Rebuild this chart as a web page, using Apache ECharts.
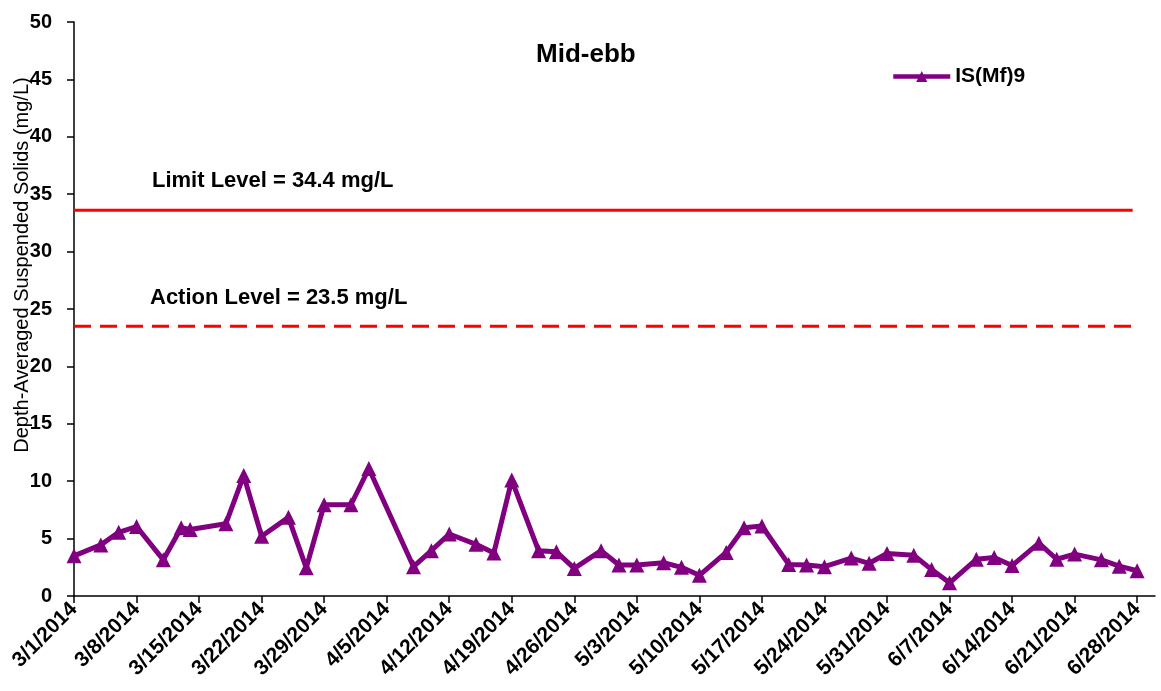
<!DOCTYPE html>
<html>
<head>
<meta charset="utf-8">
<script src="https://cdn.jsdelivr.net/npm/echarts@6/dist/echarts.min.js"></script>
<style>
  html, body { margin: 0; padding: 0; background: #fff; }
  #main { width: 1161px; height: 691px; }
</style>
</head>
<body>
<div id="main"></div>
<script>
// sampling dates and mid-ebb depth-averaged SS (mg/L) at IS(Mf)9
var sampleDates = ['3/1/2014', '3/4/2014', '3/6/2014', '3/8/2014', '3/11/2014', '3/13/2014', '3/14/2014',
  '3/18/2014', '3/20/2014', '3/22/2014', '3/25/2014', '3/27/2014', '3/29/2014', '4/1/2014', '4/3/2014',
  '4/8/2014', '4/10/2014', '4/12/2014', '4/15/2014', '4/17/2014', '4/19/2014', '4/22/2014', '4/24/2014',
  '4/26/2014', '4/29/2014', '5/1/2014', '5/3/2014', '5/6/2014', '5/8/2014', '5/10/2014', '5/13/2014',
  '5/15/2014', '5/17/2014', '5/20/2014', '5/22/2014', '5/24/2014', '5/27/2014', '5/29/2014', '5/31/2014',
  '6/3/2014', '6/5/2014', '6/7/2014', '6/10/2014', '6/12/2014', '6/14/2014', '6/17/2014', '6/19/2014',
  '6/21/2014', '6/24/2014', '6/26/2014', '6/28/2014'];
var ssValues = [3.5, 4.45, 5.55, 6.05, 3.15, 5.95, 5.8,
  6.3, 10.5, 5.2, 6.85, 2.45, 7.95, 7.95, 11.1,
  2.55, 3.95, 5.4, 4.5, 3.75, 10.1, 3.95, 3.85,
  2.4, 3.95, 2.7, 2.7, 2.9, 2.5, 1.8, 3.8,
  5.95, 6.1, 2.75, 2.7, 2.55, 3.3, 2.85, 3.7,
  3.55, 2.3, 1.15, 3.2, 3.35, 2.65, 4.6, 3.2,
  3.65, 3.15, 2.6, 2.2];

// x axis tick labels (weekly)
var tickDates = ['3/1/2014', '3/8/2014', '3/15/2014', '3/22/2014', '3/29/2014', '4/5/2014', '4/12/2014',
  '4/19/2014', '4/26/2014', '5/3/2014', '5/10/2014', '5/17/2014', '5/24/2014', '5/31/2014', '6/7/2014',
  '6/14/2014', '6/21/2014', '6/28/2014'];

// criteria lines (line extent in dates, level as drawn)
var lineDates = ['3/1/2014', '6/27/2014'];
var limitLevel = 33.6;
var actionLevel = 23.5;

var seriesName = 'IS(Mf)9';
var FONT = '"Liberation Sans", Arial, sans-serif';

// days counted from 3/1/2014
var DAY = 86400000;
var origin = Date.UTC(2014, 2, 1);
function toDay(s) {
  var p = s.split('/');
  return (Date.UTC(+p[2], +p[0] - 1, +p[1]) - origin) / DAY;
}
function dayLabel(v) {
  var d = new Date(origin + v * DAY);
  return (d.getUTCMonth() + 1) + '/' + d.getUTCDate() + '/' + d.getUTCFullYear();
}

var tickDays = tickDates.map(toDay);
var ssData = sampleDates.map(function (s, i) { return [toDay(s), ssValues[i]]; });
var limitData = lineDates.map(function (s) { return [toDay(s) + 0.5, limitLevel]; });
var actionData = lineDates.map(function (s) { return [toDay(s) + 0.5, actionLevel]; });
limitData[0][0] = 0;
actionData[0][0] = 0;

var chart = echarts.init(document.getElementById('main'));
var option = {
  animation: false,
  backgroundColor: '#fff',
  title: {
    text: 'Mid-ebb',
    left: 531,
    top: 37,
    textStyle: { fontFamily: FONT, fontSize: 26, fontWeight: 'bold', color: '#000' }
  },
  legend: {
    data: [seriesName],
    left: 886,
    top: 61,
    itemWidth: 57,
    itemHeight: 14,
    itemGap: 6,
    lineStyle: { width: 4.5 },
    textStyle: { fontFamily: FONT, fontSize: 21, fontWeight: 'bold', color: '#000' }
  },
  grid: { left: 74, right: 6, top: 22, bottom: 95, containLabel: false, outerBoundsMode: 'none' },
  xAxis: {
    type: 'value',
    min: 0,
    max: 121,
    splitLine: { show: false },
    axisLine: { lineStyle: { color: '#000', width: 1.5 } },
    axisTick: { customValues: tickDays, length: 7, lineStyle: { color: '#000', width: 1.5 } },
    axisLabel: {
      customValues: tickDays,
      rotate: 45,
      margin: 10,
      formatter: dayLabel,
      fontFamily: FONT, fontSize: 21, fontWeight: 'bold', color: '#000'
    }
  },
  yAxis: {
    type: 'value',
    min: 0,
    max: 50,
    interval: 5,
    name: 'Depth-Averaged Suspended Solids (mg/L)',
    nameLocation: 'middle',
    nameRotate: 90,
    nameGap: 42,
    nameMoveOverlap: false,
    nameTextStyle: { fontFamily: FONT, fontSize: 20, color: '#000', padding: [0, 0, 0, 88] },
    splitLine: { show: false },
    axisLine: { show: true, lineStyle: { color: '#000', width: 1.5 } },
    axisTick: { show: true, length: 7, lineStyle: { color: '#000', width: 1.5 } },
    axisLabel: { margin: 22, fontFamily: FONT, fontSize: 20, fontWeight: 'bold', color: '#000' }
  },
  graphic: [
    {
      type: 'text', left: 152, top: 170,
      style: { text: 'Limit Level = 34.4 mg/L', font: 'bold 22px ' + FONT, fill: '#000' }
    },
    {
      type: 'text', left: 150, top: 287,
      style: { text: 'Action Level = 23.5 mg/L', font: 'bold 22px ' + FONT, fill: '#000' }
    }
  ],
  series: [
    {
      name: 'Limit Level',
      type: 'line',
      data: limitData,
      symbol: 'none',
      silent: true,
      lineStyle: { color: '#ff0000', width: 3 }
    },
    {
      name: 'Action Level',
      type: 'line',
      data: actionData,
      symbol: 'none',
      silent: true,
      lineStyle: { color: '#ff0000', width: 3, type: [17, 9] }
    },
    {
      name: seriesName,
      type: 'line',
      data: ssData,
      symbol: 'triangle',
      symbolSize: 15,
      lineStyle: { color: '#800080', width: 5 },
      itemStyle: { color: '#800080' }
    }
  ]
};
chart.setOption(option);
</script>
</body>
</html>
